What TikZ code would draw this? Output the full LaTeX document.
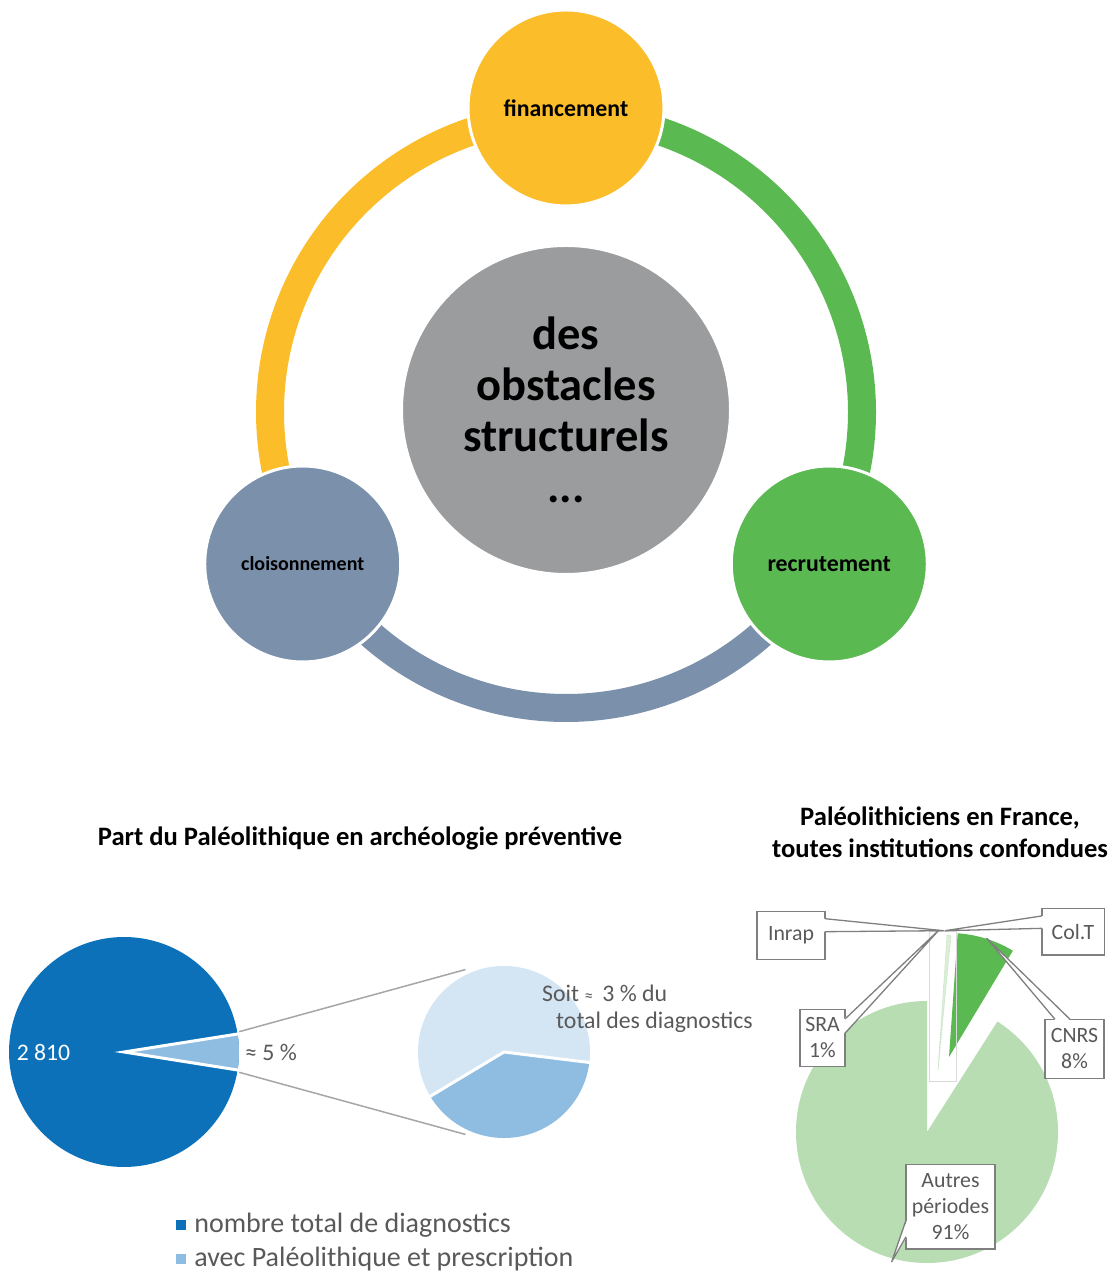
\documentclass[tikz,border=0pt]{standalone}
\usepackage{fontspec}
\setmainfont{Carlito}
\usepackage{tikz}
\usetikzlibrary{positioning}

\definecolor{ringyellow}{HTML}{FBBD29}
\definecolor{ringgreen}{HTML}{5BB952}
\definecolor{ringblue}{HTML}{7B90AA}
\definecolor{hubgray}{HTML}{9A9C9D}
\definecolor{pieblue}{HTML}{0C71B8}
\definecolor{pielight}{HTML}{8FBCE1}
\definecolor{piepale}{HTML}{D4E5F4}
\definecolor{greendark}{HTML}{5BB951}
\definecolor{greenlight}{HTML}{B8DDB3}
\definecolor{textgray}{HTML}{595959}
\definecolor{linegray}{HTML}{7F7F7F}
\definecolor{zoomgray}{HTML}{A6A6A6}

\tikzset{
    ring/.style={line width=28pt},
    satellite/.style={circle, draw=white, line width=3pt, minimum size=196pt, inner sep=0pt,
        font=\fontsize{23.8}{26}\selectfont\bfseries},
    lbl/.style={text=textgray, font=\fontsize{23.8}{29}\selectfont, align=center, inner sep=0pt},
    labelbox/.style={lbl, font=\fontsize{21.8}{26}\selectfont, draw=linegray, line width=1.3pt,
        fill=white, outer sep=0pt},
    callline/.style={draw=linegray, line width=1.3pt, line join=round},
}

\begin{document}
\begin{tikzpicture}[x=1pt, y=1pt]
    \useasboundingbox (0,0) rectangle (1114,1274);

    % Ring of obstacles
    \coordinate (hub) at (566,862);
    \draw[ring, ringgreen] ([shift={(-20:296)}]hub) arc[start angle=-20, end angle=80, radius=296];
    \draw[ring, ringyellow] ([shift={(100:296)}]hub) arc[start angle=100, end angle=200, radius=296];
    \draw[ring, ringblue] ([shift={(220:296)}]hub) arc[start angle=220, end angle=320, radius=296];

    \node[circle, fill=hubgray, draw=white, line width=2pt, minimum size=328pt, inner sep=0pt,
        align=center, font=\fontsize{46.5}{51}\selectfont\bfseries] (obstacles) at ([yshift=2pt]hub)
        {des\\obstacles\\structurels\\...};

    \node[satellite, fill=ringyellow] (fin) at ([shift={(90:304)}]hub) {financement};
    \node[satellite, fill=ringgreen] (rec) at ([shift={(-30:304)}]hub) {recrutement};
    \node[satellite, fill=ringblue, font=\fontsize{20}{24}\selectfont\bfseries] (cloi)
        at ([shift={(210:304)}]hub) {cloisonnement};

    % Part du Paleolithique
    \node[font=\fontsize{26.6}{30}\selectfont\bfseries] (titreA) at (360,436)
        {Part du Paléolithique en archéologie préventive};

    \coordinate (pieA) at (124,222);
    \fill[pieblue] (pieA) circle[radius=115];
    \fill[pielight] (pieA) -- ++(-9:115) arc[start angle=-9, end angle=9, radius=115] -- cycle;
    \draw[white, line width=3pt] ([shift={(-9:117)}]pieA) -- (pieA) -- ++(9:117);

    \coordinate (pieB) at (504,222);
    \fill[piepale] (pieB) -- ++(-7:86) arc[start angle=-7, end angle=211, radius=86] -- cycle;
    \begin{scope}[shift={(1,-4)}]
        \fill[pielight] (pieB) -- ++(211:86) arc[start angle=211, end angle=353, radius=86] -- cycle;
        \draw[white, line width=3pt] ([shift={(211:88)}]pieB) -- (pieB) -- ++(353:88);
    \end{scope}

    \coordinate (A1) at ([shift={(10:117)}]pieA);
    \coordinate (A2) at ([shift={(-10:117)}]pieA);
    \coordinate (B1) at ([shift={(115:91)}]pieB);
    \coordinate (B2) at ([shift={(245:91)}]pieB);
    \draw[zoomgray, line width=1.5pt] (A1) -- (B1);
    \draw[zoomgray, line width=1.5pt] (A2) -- (B2);

    \node[text=white, font=\fontsize{23.7}{26}\selectfont] (total) at (43.5,222) {2 810};
    \node[lbl, anchor=west] (cinq) at (245,222) {≈ 5 \%};
    \node[lbl, anchor=west] (soit) at (542,281) {Soit {\fontsize{17}{17}\selectfont ≈}\, 3 \% du};
    \node[lbl, anchor=west] (diag) at (556,252) {total des diagnostics};

    % Legend
    \node[fill=pieblue, minimum size=10pt, inner sep=0pt] (sqA) at (181,49) {};
    \node[fill=pielight, minimum size=10pt, inner sep=0pt] (sqB) at (181,14.5) {};
    \node[lbl, font=\fontsize{28}{32}\selectfont, right=8pt of sqA] (legA) {nombre total de diagnostics};
    \node[lbl, font=\fontsize{28}{32}\selectfont, right=8pt of sqB] (legB) {avec Paléolithique et prescription};

    % Paleolithiciens en France
    \node[align=center, font=\fontsize{26.6}{32}\selectfont\bfseries] (titreB) at (940,442)
        {Paléolithiciens en France,\\toutes institutions confondues};

    \coordinate (pieC) at (927,142);
    \fill[greenlight] (pieC) -- ++(90:131) arc[start angle=90, end angle=417.5, radius=131] -- cycle;
    \coordinate (cnrsC) at (949,217);
    \fill[greendark] (cnrsC) -- ++(59:124) arc[start angle=59, end angle=86, radius=124] -- cycle;
    \coordinate (sraC) at (938,204);
    \filldraw[fill=greenlight!50, draw=greenlight, densely dotted, line width=0.7pt]
        (sraC) -- (947,339) -- (951,338) -- cycle;
    \draw[gray!30, line width=0.8pt] (929.3,192.3) rectangle (956,342.3);

    % Labels
    \coordinate (tipI) at (943.3,343.3);
    \coordinate (tipT) at (945,343.3);
    \coordinate (tipS) at (939,344);
    \coordinate (tipC) at (986.7,335.7);
    \coordinate (tipA) at (891.7,12.3);

    \node[labelbox, minimum width=68pt, minimum height=47.6pt] (inrap) at (791,338.5) {Inrap};
    \node[labelbox, minimum width=62.3pt, minimum height=46.7pt] (colt) at (1073,342.3) {Col.T};
    \node[labelbox, minimum width=45pt, minimum height=57.4pt] (sra) at (822.5,236) {SRA\\1\%};
    \node[labelbox, minimum width=59pt, minimum height=59pt] (cnrs) at (1074.5,225.2) {CNRS\\8\%};
    \node[labelbox, minimum width=89pt, minimum height=84.7pt] (autres) at (950.5,67.3)
        {Autres\\périodes\\91\%};

    \fill[white] ([shift={(-1,-7)}]inrap.north east) -- (tipI) -- ([shift={(-1,-20)}]inrap.north east) -- cycle;
    \draw[callline] ([yshift=-7pt]inrap.north east) -- (tipI) -- ([yshift=-20pt]inrap.north east);
    \fill[white] ([shift={(1,-7.6)}]colt.north west) -- (tipT) -- ([shift={(1,-20)}]colt.north west) -- cycle;
    \draw[callline] ([yshift=-7.6pt]colt.north west) -- (tipT) -- ([yshift=-20pt]colt.north west);
    \fill[white] ([shift={(-1,-9.7)}]sra.north east) -- (tipS) -- ([shift={(-1,-24)}]sra.north east) -- cycle;
    \draw[callline] ([yshift=-9.7pt]sra.north east) -- (tipS) -- ([yshift=-24pt]sra.north east);
    \fill[white] ([shift={(10,-1)}]cnrs.north west) -- (tipC) -- ([shift={(25,-1)}]cnrs.north west) -- cycle;
    \draw[callline] ([xshift=10pt]cnrs.north west) -- (tipC) -- ([xshift=25pt]cnrs.north west);
    \fill[white] ([shift={(1,12.3)}]autres.south west) -- (tipA) -- ([shift={(1,29)}]autres.south west) -- cycle;
    \draw[callline] ([yshift=12.3pt]autres.south west) -- (tipA) -- ([yshift=29pt]autres.south west);
\end{tikzpicture}
\end{document}
